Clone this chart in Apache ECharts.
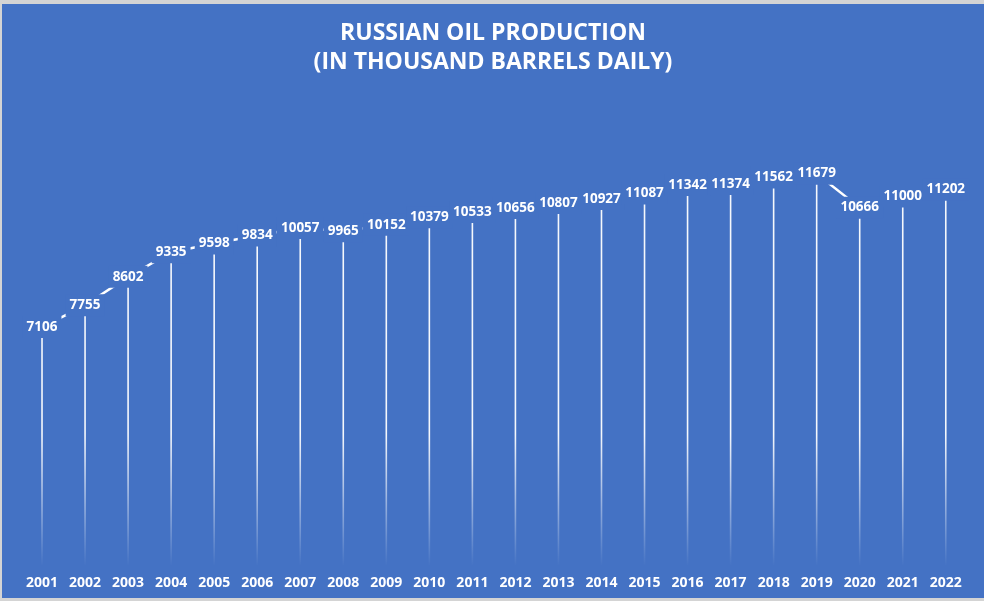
<!DOCTYPE html>
<html>
<head>
<meta charset="utf-8">
<script src="https://cdn.jsdelivr.net/npm/echarts@6/dist/echarts.min.js"></script>
<style>
html, body { margin: 0; padding: 0; background: #d4d4d4; width: 984px; height: 601px; overflow: hidden; }
#chart { position: absolute; left: 2px; top: 4px; width: 982px; height: 594px; background: #4472c4; }
</style>
</head>
<body>
<div id="chart"></div>
<script>
const years = ['2001', '2002', '2003', '2004', '2005', '2006', '2007', '2008', '2009', '2010', '2011',
    '2012', '2013', '2014', '2015', '2016', '2017', '2018', '2019', '2020', '2021', '2022']
const production = [7106, 7755, 8602, 9335, 9598, 9834, 10057, 9965, 10152, 10379, 10533,
    10656, 10807, 10927, 11087, 11342, 11374, 11562, 11679, 10666, 11000, 11202]

const chart = echarts.init(document.getElementById('chart'))

// drop lines fade out towards the axis
const dropColor = new echarts.graphic.LinearGradient(0, 430, 0, 562, [
    { offset: 0, color: 'rgba(255,255,255,0.95)' },
    { offset: 1, color: 'rgba(255,255,255,0)' }
], true)

const option = {
    backgroundColor: '#4472c4',
    animation: false,
    title: {
        text: 'RUSSIAN OIL PRODUCTION\n(IN THOUSAND BARRELS DAILY)',
        left: 'center',
        top: 10,
        textStyle: {
            color: '#fff',
            fontFamily: 'Open Sans',
            fontWeight: 'bold',
            fontSize: 23,
            lineHeight: 29
        }
    },
    grid: { left: 18.5, right: 16.7, top: 91.8, bottom: 32.6 },
    xAxis: {
        type: 'category',
        data: years,
        axisLine: { show: false },
        axisTick: { show: false },
        axisLabel: {
            color: '#fff',
            fontFamily: 'Open Sans',
            fontWeight: 'bold',
            fontSize: 14,
            margin: 11
        }
    },
    yAxis: {
        type: 'value',
        min: 0,
        max: 14000,
        show: false,
        splitLine: { show: false }
    },
    series: [
        {
            type: 'bar',
            data: production,
            barWidth: 1.6,
            z: 1,
            itemStyle: { color: dropColor },
            silent: true
        },
        {
            type: 'line',
            data: production,
            z: 3,
            symbol: 'circle',
            symbolSize: 2,
            itemStyle: { color: '#fff' },
            lineStyle: { color: '#fff', width: 2.5 },
            label: {
                show: true,
                position: 'inside',
                color: '#fff',
                fontFamily: 'Open Sans',
                fontWeight: 'bold',
                fontSize: 13.5,
                backgroundColor: '#4472c4',
                padding: [4, 4]
            }
        }
    ]
}
chart.setOption(option)
</script>
</body>
</html>
